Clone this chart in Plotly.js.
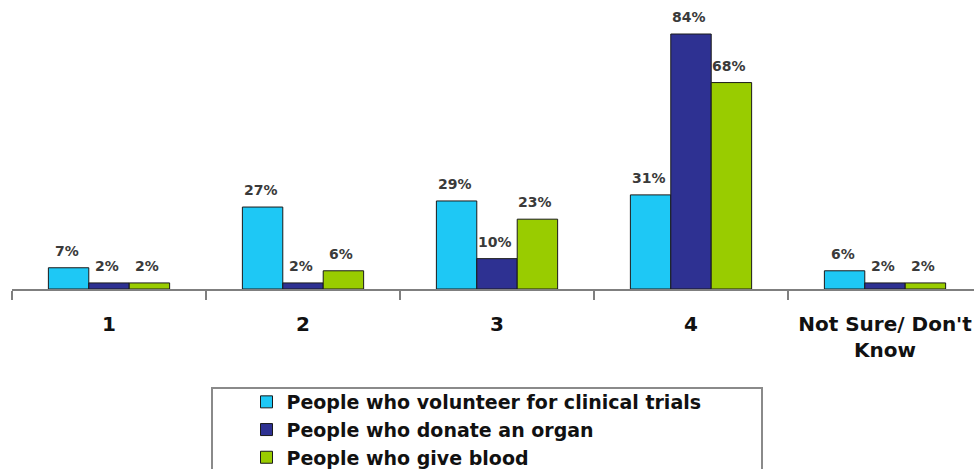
<!DOCTYPE html>
<html>
<head>
<meta charset="utf-8">
<script src="https://cdn.plot.ly/plotly-3.0.1.min.js"></script>
<style>
  html, body { margin: 0; padding: 0; background: #ffffff; overflow: hidden; }
  #chart { width: 974px; height: 469px; }
</style>
</head>
<body>
<div id="chart"></div>
<script>
// ---- data ----
var categories = ['1', '2', '3', '4', "Not Sure/ Don't<br>Know"];
var seriesNames = [
  'People who volunteer for clinical trials',
  'People who donate an organ',
  'People who give blood'
];
var volunteerTrials = [7, 27, 29, 31, 6];
var donateOrgan = [2, 2, 10, 84, 2];
var giveBlood = [2, 6, 23, 68, 2];

// ---- styling ----
var seriesValues = [volunteerTrials, donateOrgan, giveBlood];
var seriesColors = ['#1ec8f5', '#2e3192', '#99cc00'];
var FONT = 'DejaVu Sans, Verdana, sans-serif';

var W = 974, H = 469;
var margin = {l: 12, r: 0, t: 0, b: 180, autoexpand: false};
var plotW = W - margin.l - margin.r;
var catPx = 194;                       // width of one category slot in px
var bargap = 0.375;
var xRange = [-0.5, -0.5 + plotW / catPx];
var barPx = catPx * (1 - bargap) / seriesValues.length;

var traces = seriesValues.map(function (vals, i) {
  return {
    type: 'bar',
    name: seriesNames[i],
    x: categories,
    y: vals,
    marker: {color: seriesColors[i], line: {color: '#1a1a1a', width: 1}},
    hoverinfo: 'skip',
    cliponaxis: false
  };
});

// value labels above the bars (x given as category index on the category axis)
var annotations = [];
seriesValues.forEach(function (vals, i) {
  vals.forEach(function (v, j) {
    annotations.push({
      x: j, y: v, xref: 'x', yref: 'y',
      text: v + '%', showarrow: false,
      yanchor: 'bottom', xanchor: 'center',
      xshift: (i - (seriesValues.length - 1) / 2) * barPx - 2,
      yshift: 7,
      font: {family: FONT, size: 14, color: '#3a3a3a', weight: 'bold'}
    });
  });
});

function px2paperX(px) { return (px - margin.l) / plotW; }
function px2paperY(py) { var ph = H - margin.t - margin.b; return (ph + margin.t - py) / ph; }

var layout = {
  width: W, height: H,
  margin: margin,
  paper_bgcolor: '#ffffff',
  plot_bgcolor: '#ffffff',
  barmode: 'group',
  bargap: bargap,
  bargroupgap: 0,
  showlegend: true,
  xaxis: {
    type: 'category',
    range: xRange,
    automargin: false,
    tickangle: 0,
    showline: true, linecolor: '#7f7f7f', linewidth: 1.5,
    ticks: 'outside', tickson: 'boundaries', ticklen: 9, tickwidth: 1.5, tickcolor: '#7f7f7f',
    ticklabelstandoff: 16,
    tickfont: {family: FONT, size: 20, color: '#111111', weight: 'bold'},
    showgrid: false, zeroline: false, fixedrange: true
  },
  yaxis: {
    range: [0, 95.2],
    automargin: false,
    visible: false, showgrid: false, zeroline: false, fixedrange: true
  },
  legend: {
    orientation: 'v',
    traceorder: 'normal',
    xref: 'container', yref: 'container',
    x: 246.5 / W, y: 1 - 383 / H,
    xanchor: 'left', yanchor: 'top',
    bgcolor: 'rgba(0,0,0,0)',
    borderwidth: 0,
    font: {family: FONT, size: 19, color: '#111111', weight: 'bold'}
  },
  shapes: [{
    type: 'rect', xref: 'paper', yref: 'paper',
    x0: px2paperX(212), x1: px2paperX(762),
    y0: px2paperY(388), y1: px2paperY(490),
    line: {color: '#8a8a8a', width: 2},
    fillcolor: 'rgba(0,0,0,0)',
    layer: 'below'
  }],
  annotations: annotations
};

Plotly.newPlot('chart', traces, layout, {displayModeBar: false, staticPlot: true});
</script>
</body>
</html>
